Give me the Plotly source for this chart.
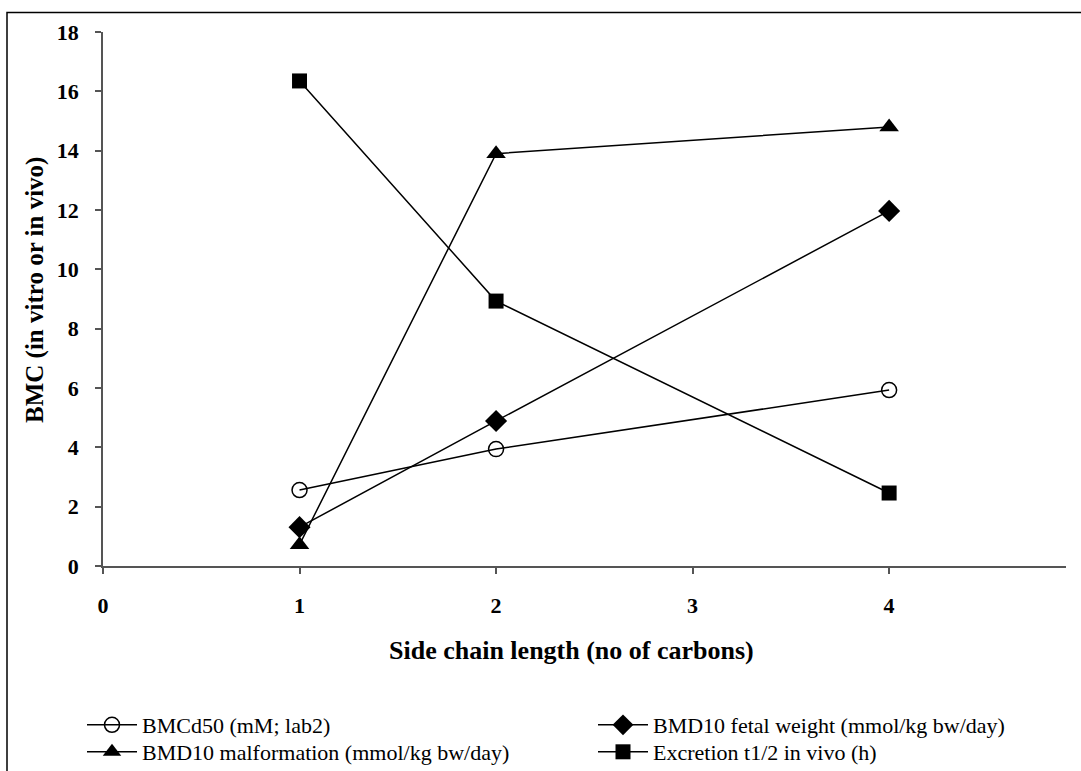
import plotly.graph_objects as go

x_vals = [1, 2, 4]
bmcd50 = [2.56, 3.94, 5.93]
bmd10_fetal = [1.31, 4.89, 11.97]
bmd10_malf = [0.72, 13.9, 14.8]
excretion = [16.35, 8.93, 2.46]

names = ["BMCd50 (mM; lab2)", "BMD10 fetal weight (mmol/kg bw/day)",
         "BMD10 malformation (mmol/kg bw/day)", "Excretion t1/2 in vivo (h)"]
x_ticks = [0, 1, 2, 3, 4]
y_ticks = list(range(0, 20, 2))

W, H = 1081, 771
L, R, T, B = 103, 1066, 32, 566
SERIF = "Times New Roman"

fig = go.Figure()
series = [
    (bmcd50, names[0], "legend", dict(symbol="circle-open", size=15, color="black", line=dict(width=1.5, color="black"))),
    (bmd10_fetal, names[1], "legend", dict(symbol="diamond", size=17, color="black")),
    (bmd10_malf, names[2], "legend2", dict(symbol="triangle-up", size=17, color="black")),
    (excretion, names[3], "legend2", dict(symbol="square", size=15, color="black")),
]
for ys, nm, lg, mk in series:
    fig.add_trace(go.Scatter(x=x_vals, y=ys, name=nm, mode="lines+markers",
                             line=dict(color="black", width=1.5), marker=mk,
                             legend=lg, cliponaxis=False))

font_tick = dict(family=SERIF, size=22, color="black", weight="bold")
leg_common = dict(orientation="h", x=(82 - L) / (R - L), xanchor="left", yanchor="middle",
                  entrywidth=446, entrywidthmode="pixels", itemwidth=50,
                  font=dict(family=SERIF, size=22, color="black"),
                  tracegroupgap=0, bgcolor="rgba(0,0,0,0)")

fig.update_layout(
    width=W, height=H,
    font=dict(family=SERIF),
    margin=dict(l=L, r=W - R, t=T, b=H - B, autoexpand=False),
    paper_bgcolor="white", plot_bgcolor="white",
    showlegend=True,
    legend=dict(leg_common, y=-(725 - B) / (B - T)),
    legend2=dict(leg_common, y=-(752 - B) / (B - T)),
    xaxis=dict(range=[0, 4.9], tickvals=x_ticks, ticktext=[str(v) for v in x_ticks],
               showgrid=False, zeroline=False, showline=True, linecolor="#555", linewidth=1.5,
               ticks="outside", ticklen=6, tickcolor="#555", tickwidth=1.5,
               tickfont=font_tick, ticklabelstandoff=13),
    yaxis=dict(range=[0, 18], tickvals=y_ticks, showgrid=False, zeroline=False,
               showline=True, linecolor="#555", linewidth=1.5,
               ticks="outside", ticklen=6, tickcolor="#555", tickwidth=1.5,
               tickfont=font_tick, ticklabelstandoff=12),
    annotations=[
        dict(text="<b>Side chain length (no of carbons)</b>", xref="paper", yref="paper",
             x=(571 - L) / (R - L), y=-(650 - B) / (B - T), xanchor="center", yanchor="middle",
             showarrow=False, font=dict(family=SERIF, size=26, color="black")),
        dict(text="<b>BMC (in vitro or in vivo)</b>", xref="paper", yref="paper",
             x=(35 - L) / (R - L), y=(B - 290) / (B - T), xanchor="center", yanchor="middle",
             textangle=-90, showarrow=False,
             font=dict(family=SERIF, size=25, color="black")),
    ],
    shapes=[
        dict(type="rect", xref="paper", yref="paper",
             x0=(7 - L) / (R - L), x1=(1100 - L) / (R - L),
             y0=-(800 - B) / (B - T), y1=(B - 12.5) / (B - T),
             line=dict(color="black", width=1.5), fillcolor="rgba(0,0,0,0)", layer="below"),
    ],
)

fig.write_html("out.html", config={"displayModeBar": False},
               post_script="document.body.style.margin='0';")
